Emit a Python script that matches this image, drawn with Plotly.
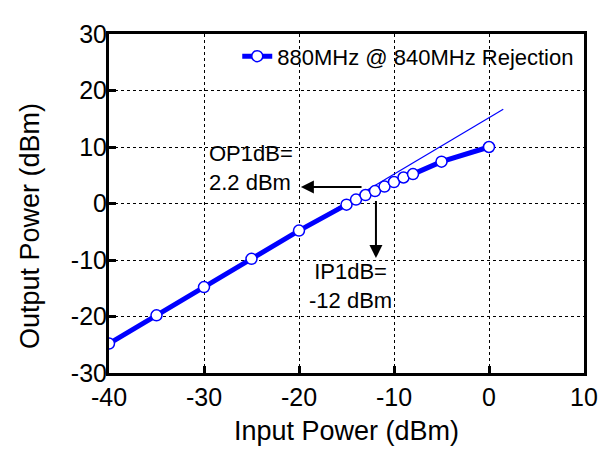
import plotly.graph_objects as go

# measured points: input power (dBm) -> output power (dBm)
pin = [-40, -35, -30, -25, -20, -15, -14, -13, -12, -11, -10, -9, -8, -5, 0]
pout = [-24.8, -19.8, -14.8, -9.8, -4.8, -0.2, 0.7, 1.5, 2.2, 3.0, 3.8, 4.6, 5.2, 7.4, 10.0]

# ideal linear extrapolation
ideal_x = [-40, 1.5]
ideal_y = [-24.8, 16.7]

series_name = "880MHz @ 840MHz Rejection"
x_ticks = [-40, -30, -20, -10, 0, 10]
x_labels = ["-40", "-30", "-20", "-10", "0", "10"]
y_ticks = [-30, -20, -10, 0, 10, 20, 30]
y_labels = ["-30", "-20", "-10", "0", "10", "20", "30"]

BLUE = "#0000ff"
FONT = "Liberation Sans, Arial, sans-serif"

fig = go.Figure()

fig.add_trace(go.Scatter(x=ideal_x, y=ideal_y, mode="lines",
                         line=dict(color=BLUE, width=1.2),
                         showlegend=False, hoverinfo="skip"))

fig.add_trace(go.Scatter(x=pin, y=pout, mode="lines+markers",
                         name=series_name,
                         line=dict(color=BLUE, width=5),
                         marker=dict(symbol="circle", size=11, color="white",
                                     line=dict(color=BLUE, width=1.5))))

axis_common = dict(
    showline=True, linecolor="black", linewidth=3, mirror=True,
    ticks="inside", ticklen=7, tickwidth=3, tickcolor="black",
    showgrid=True, gridcolor="black", gridwidth=1, griddash="3px,3px",
    zeroline=False, tickfont=dict(family=FONT, size=25, color="black"),
)

fig.update_xaxes(range=[-40, 10], tickvals=x_ticks, ticktext=x_labels, **axis_common)
fig.update_yaxes(range=[-30, 30], tickvals=y_ticks, ticktext=y_labels,
                 ticklabelstandoff=-6, **axis_common)

annot_font = dict(family=FONT, size=22, color="black")

# page body adds an 8px margin, so the figure is kept 8px smaller
fig.update_layout(
    width=606, height=454,
    margin=dict(l=101, r=30, t=17, b=89),
    plot_bgcolor="white", paper_bgcolor="white",
    font=dict(family=FONT, color="black"),
    legend=dict(x=0.27, y=0.934, xanchor="left", yanchor="middle",
                bgcolor="rgba(0,0,0,0)", font=dict(family=FONT, size=22)),
    annotations=[
        # axis titles
        dict(text="Input Power (dBm)", xref="paper", yref="paper",
             x=0.5, y=-0.17, xanchor="center", yanchor="middle", showarrow=False,
             font=dict(family=FONT, size=27, color="black")),
        dict(text="Output Power (dBm)", xref="paper", yref="paper",
             x=-0.166, y=0.434, xanchor="center", yanchor="middle",
             textangle=-90, showarrow=False,
             font=dict(family=FONT, size=27, color="black")),
        # OP1dB label and arrow
        dict(text="OP1dB=<br>2.2 dBm", x=-25.05, y=6.2, showarrow=False,
             align="left", font=annot_font),
        dict(x=-19.8, y=2.9, ax=-13.26, ay=2.9, xref="x", yref="y",
             axref="x", ayref="y", text="", showarrow=True,
             arrowhead=2, arrowsize=1.3, arrowwidth=2, arrowcolor="black"),
        # IP1dB label and arrow
        dict(text="IP1dB=<br>-12 dBm", x=-14.6, y=-14.66, showarrow=False,
             align="center", font=annot_font),
        dict(x=-11.9, y=-9.66, ax=-11.9, ay=0.69, xref="x", yref="y",
             axref="x", ayref="y", text="", showarrow=True,
             arrowhead=2, arrowsize=1.3, arrowwidth=2, arrowcolor="black"),
    ],
)

fig.write_html("out.html")
